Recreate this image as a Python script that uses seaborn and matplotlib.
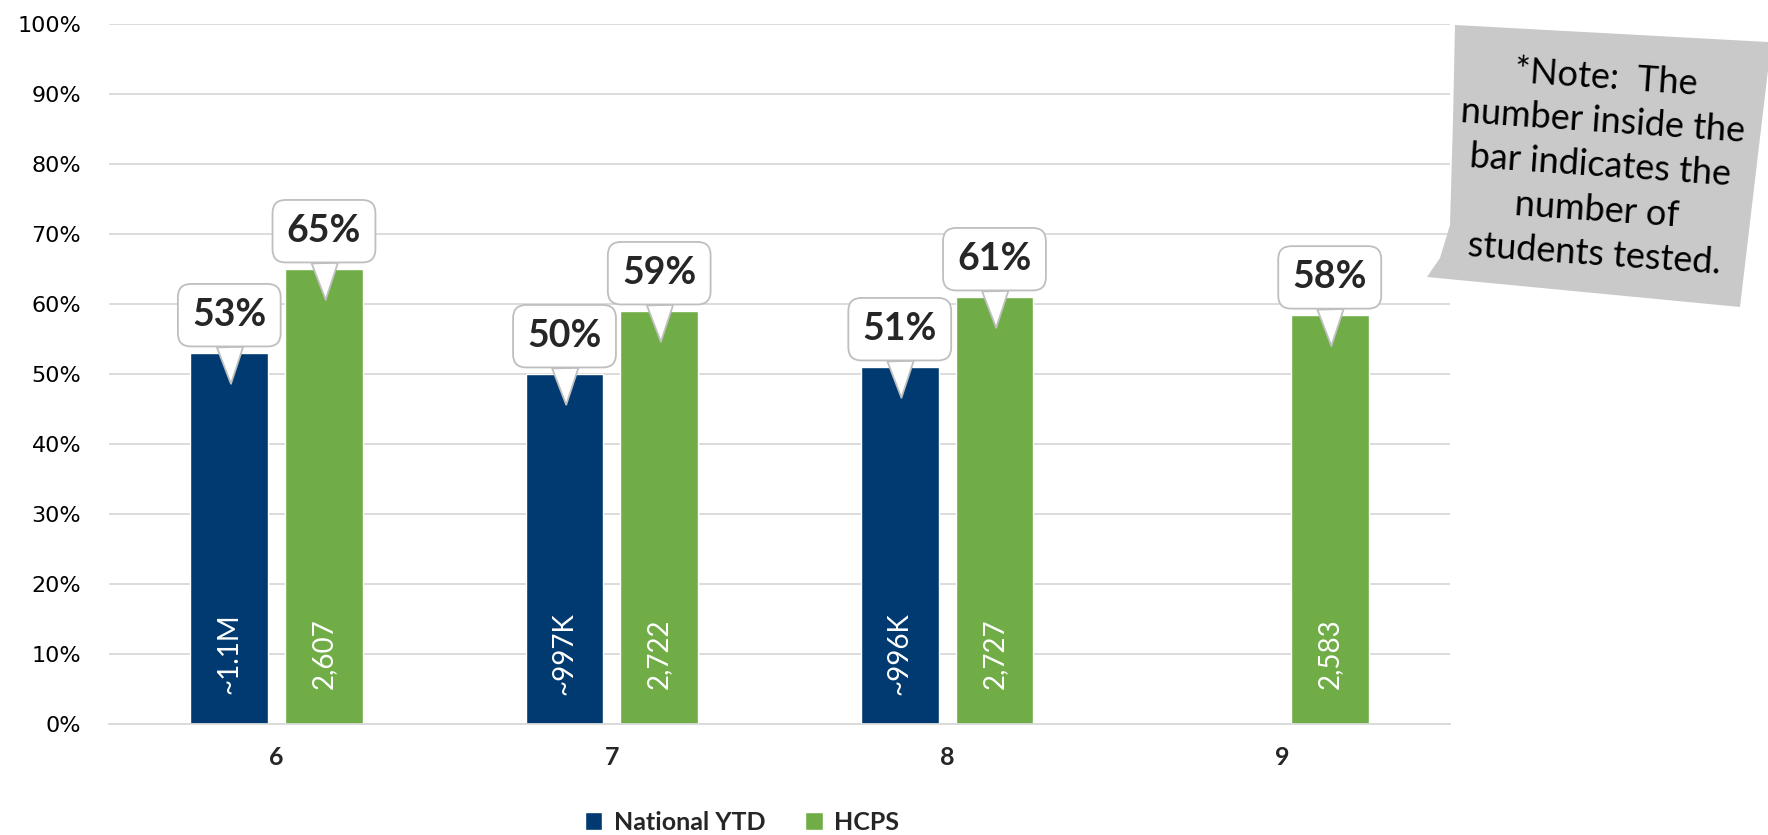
import numpy as np
import pandas as pd
import matplotlib
matplotlib.use("Agg")
import matplotlib.pyplot as plt
from matplotlib.patches import Polygon
import seaborn as sns

# values
grades = ["6", "7", "8", "9"]
national = [53, 50, 51, np.nan]
hcps = [65, 59, 61, 58.4]
national_n = ["~1.1M", "~997K", "~996K", ""]
hcps_n = ["2,607", "2,722", "2,727", "2,583"]
series = ["National YTD", "HCPS"]
colors = {"National YTD": "#003A70", "HCPS": "#70AD47"}
y_ticks = [0, 10, 20, 30, 40, 50, 60, 70, 80, 90, 100]
note_text = "*Note:  The\nnumber inside the\nbar indicates the\nnumber of\nstudents tested."

df = pd.DataFrame({
    "grade": grades * 2,
    "series": [series[0]] * 4 + [series[1]] * 4,
    "pct": national + hcps,
    "n": national_n + hcps_n,
})

sns.set_style("white")
plt.rcParams["font.family"] = ["Lato", "DejaVu Sans"]

fig = plt.figure(figsize=(17.68, 8.35), dpi=100)
ax = fig.add_axes([109 / 1768, 1 - 724 / 835, (1450 - 109) / 1768, (724 - 24) / 835])

sns.barplot(data=df, x="grade", y="pct", hue="series", hue_order=series,
            order=grades, palette=colors, width=0.565, gap=0.18,
            saturation=1, ax=ax, zorder=2)

ax.set_ylim(0, 100)
ax.set_xlim(-0.5, 3.5)
ax.set_yticks(y_ticks)
ax.set_yticklabels([f"{t}%" for t in y_ticks], family="DejaVu Sans",
                   fontsize=16, color="#000000")
ax.set_xticks(range(len(grades)))
ax.set_xticklabels(grades)
plt.setp(ax.get_xticklabels(), fontsize=18, fontweight="bold", family="Lato")
ax.tick_params(axis="y", length=0, pad=20)
ax.tick_params(axis="x", length=0, pad=16)
ax.set_xlabel("")
ax.set_ylabel("")
ax.yaxis.grid(True, color="#D9D9D9", lw=1.3, zorder=0)
ax.set_axisbelow(True)
for s in ["top", "right", "left"]:
    ax.spines[s].set_visible(False)
ax.spines["bottom"].set_color("#D9D9D9")
ax.spines["bottom"].set_linewidth(1.3)

# labels: count inside the bar, percentage callout above it
lookup = df.set_index(["series", "grade"])
for cont, name in zip(ax.containers, series):
    for bar in cont:
        h = bar.get_height()
        if np.isnan(h) or h == 0:
            continue
        xc = bar.get_x() + bar.get_width() / 2
        g = grades[int(round(xc))]
        row = lookup.loc[(name, g)]
        ax.text(xc, 10, row["n"], rotation=90, ha="center", va="center",
                color="white", fontsize=20, zorder=3)
        ax.annotate(f"{round(h)}%", xy=(xc + 0.005, h - 4.4), xytext=(xc, h + 5.4),
                    ha="center", va="center", fontsize=27, fontweight="bold",
                    zorder=5,
                    bbox=dict(boxstyle="round,pad=0.38,rounding_size=0.35",
                              fc="white", ec="#BFBFBF", lw=1.3),
                    arrowprops=dict(arrowstyle="wedge,tail_width=0.7,shrink_factor=0.5",
                                    fc="white", ec="#BFBFBF", lw=1.3,
                                    shrinkA=0, shrinkB=0))

handles, labels = ax.get_legend_handles_labels()
ax.get_legend().remove()
fig.legend(handles, labels, loc="center", bbox_to_anchor=(742 / 1768, 1 - 822 / 835),
           ncol=2, frameon=False, handlelength=0.7, handleheight=0.7,
           handletextpad=0.45, columnspacing=1.6,
           prop=dict(family="Lato", weight="bold", size=18))

# the grey sticky note in the upper right
pts = [(1455, 25), (1768, 42), (1768, 70), (1740, 307), (1427, 277),
       (1440, 258), (1450, 225), (1453, 120)]
note = Polygon([(x / 1768, 1 - y / 835) for x, y in pts], closed=True,
               transform=fig.transFigure, fc="#C9C9C9", ec="none", zorder=10)
fig.patches.append(note)
fig.text(1600 / 1768, 1 - 166 / 835, note_text, ha="center", va="center",
         rotation=-4, fontsize=26, linespacing=1.42, color="#000000",
         rotation_mode="anchor", zorder=11)

fig.savefig("out.png", dpi=100)
